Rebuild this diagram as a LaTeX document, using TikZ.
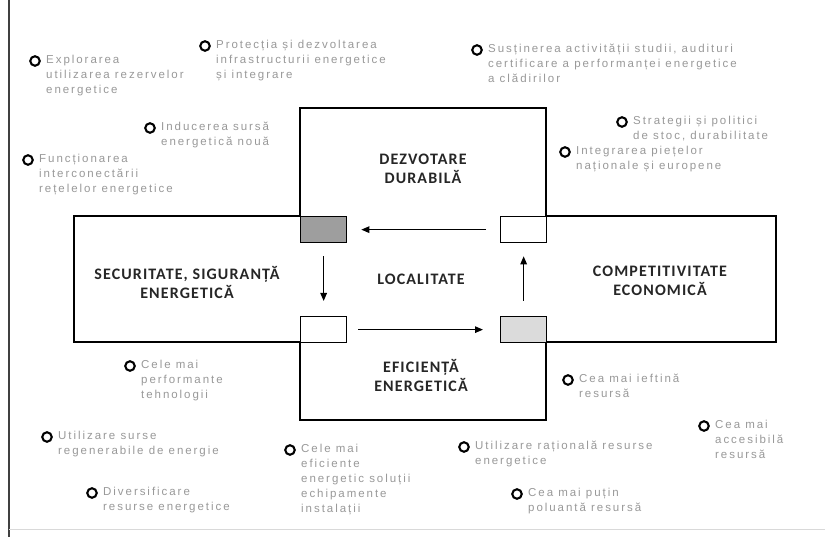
\documentclass[tikz,border=0pt]{standalone}
\usepackage{fontspec}
\setmainfont{Carlito}
\newfontfamily\bulfont[LetterSpace=17]{Liberation Sans}
\newfontfamily\headfont[LetterSpace=7]{Carlito}
\usetikzlibrary{arrows.meta}
\definecolor{txtgray}{gray}{0.6}
\definecolor{darksq}{gray}{0.62}
\definecolor{lightsq}{gray}{0.86}
\tikzset{
  frame/.style={line width=1.4pt, draw=black},
  sq/.style={draw=black, line width=1.3pt, minimum width=46pt, minimum height=26pt, inner sep=0pt, anchor=north west},
  head/.style={font=\headfont\bfseries\fontsize{16}{19}\selectfont, align=center, text=black!85},
  flowarr/.style={line width=1.2pt, -{Triangle[length=8pt,width=6.5pt]}},
  dot/.style={circle, draw=black, line width=2.1pt, inner sep=0pt, minimum size=9.5pt},
  btext/.style={font=\bulfont\fontsize{11.5}{15}\selectfont, text=txtgray, align=left, anchor=north west, inner sep=0pt}
}
\newcommand\bulitem[4]{%
  \node[dot] (d#1) at (#2,#3) {};
  \node[btext] (t#1) at (#2+11,#3-6) {#4};}
\begin{document}
\begin{tikzpicture}[x=1pt,y=-1pt]
\useasboundingbox (0,0) rectangle (825,537);
\fill[white] (0,0) rectangle (825,537);
% page edge lines
\draw[line width=1.2pt, black!75] (9,0) -- (9,537);
\draw[line width=0.6pt, black!15] (9,529) -- (825,529);
% cross outline
\draw[frame] (300,108) -- (546,108) -- (546,216) -- (776,216) -- (776,342) -- (546,342)
  -- (546,420) -- (300,420) -- (300,342) -- (74,342) -- (74,216) -- (300,216) -- cycle;
% corner squares
\node[sq, fill=darksq] (sqTL) at (300,216) {};
\node[sq] (sqTR) at (500,216) {};
\node[sq] (sqBL) at (300,316) {};
\node[sq, fill=lightsq] (sqBR) at (500,316) {};
% arrows
\draw[flowarr, shorten <=14pt, shorten >=14pt] (sqTR.west) -- (sqTL.east);
\draw[flowarr, shorten <=13pt, shorten >=15pt] (sqTL.south) -- (sqBL.north);
\draw[flowarr, shorten <=11pt, shorten >=17pt] (sqBL.east) -- (sqBR.west);
\draw[flowarr, shorten <=15pt, shorten >=13pt] (sqBR.north) -- (sqTR.south);
% headings
\node[head] (hdez) at (423,169) {DEZVOTARE\\DURABILĂ};
\node[head] (hloc) at (421,279) {LOCALITATE};
\node[head] (hsec) at (187,282) {SECURITATE, SIGURANȚĂ\\ENERGETICĂ};
\node[head] (hcom) at (660,281) {COMPETITIVITATE\\ECONOMICĂ};
\node[head] (hefi) at (421,375) {EFICIENȚĂ\\ENERGETICĂ};
% bullet items
\bulitem{a}{35}{61}{Explorarea\\utilizarea rezervelor\\energetice}
\bulitem{b}{205}{46}{Protecția și dezvoltarea\\infrastructurii energetice\\și integrare}
\bulitem{c}{477}{50}{Susținerea activității studii, audituri\\certificare a performanței energetice\\a clădirilor}
\bulitem{d}{150}{128}{Inducerea sursă\\energetică nouă}
\bulitem{e}{28}{160}{Funcționarea\\interconectării\\rețelelor energetice}
\bulitem{f}{622}{122}{Strategii și politici\\de stoc, durabilitate}
\bulitem{g}{565}{152}{Integrarea piețelor\\naționale și europene}
\bulitem{h}{130}{366}{Cele mai\\performante\\tehnologii}
\bulitem{i}{568}{380}{Cea mai ieftină\\resursă}
\bulitem{j}{704}{426}{Cea mai\\accesibilă\\resursă}
\bulitem{k}{47}{437}{Utilizare surse\\regenerabile de energie}
\bulitem{l}{92}{493}{Diversificare\\resurse energetice}
\bulitem{m}{290}{450}{Cele mai\\eficiente\\energetic soluții\\echipamente\\instalații}
\bulitem{n}{464}{447}{Utilizare rațională resurse\\energetice}
\bulitem{o}{517}{494}{Cea mai puțin\\poluantă resursă}
\end{tikzpicture}
\end{document}
